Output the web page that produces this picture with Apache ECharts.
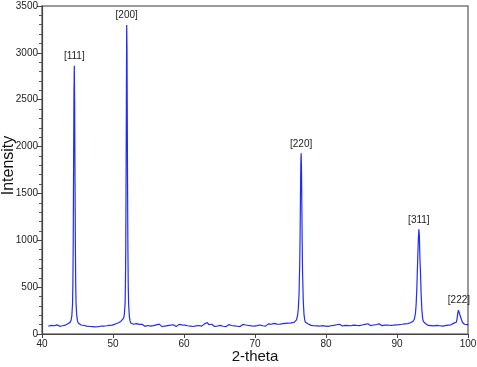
<!DOCTYPE html>
<html><head><meta charset="utf-8">
<script src="https://cdn.jsdelivr.net/npm/echarts@6/dist/echarts.min.js"></script>
<style>html,body{margin:0;padding:0;background:#fff}#c{width:477px;height:367px}</style>
</head><body><div id="c"></div>
<script>
// [2-theta, intensity] scan segments
const scanA = [[40.9,84],[41.1,78],[41.3,91],[41.5,80],[41.7,88],[41.9,76],[42.1,97],[42.3,86],[42.5,82],[42.7,99],[42.9,88],[43.1,102],[43.3,95],[43.5,108],[43.7,112],[43.9,120]];
const peak111 = [[44.0,128],[44.1,150],[44.2,190],[44.3,320],[44.35,520],[44.4,1000],[44.45,1800],[44.5,2550],[44.55,2863],[44.6,2450],[44.65,1650],[44.7,950],[44.75,520],[44.8,320],[44.9,190],[45.0,140],[45.1,118]];
const scanB = [[45.3,108],[45.5,96],[45.7,104],[45.9,91],[46.1,99],[46.3,84],[46.5,96],[46.7,80],[46.9,92],[47.1,78],[47.3,90],[47.5,76],[47.7,88],[47.9,79],[48.1,93],[48.3,83],[48.5,96],[48.7,85],[48.9,99],[49.1,88],[49.3,103],[49.5,92],[49.7,108],[49.9,95],[50.1,112],[50.3,106],[50.5,119],[50.7,118],[50.9,131],[51.1,134],[51.3,155],[51.5,170]];
const peak200 = [[51.6,210],[51.7,320],[51.75,520],[51.8,950],[51.85,1800],[51.9,2800],[51.93,3298],[51.97,3050],[52.0,2500],[52.05,1600],[52.1,900],[52.15,500],[52.2,320],[52.3,190],[52.4,140],[52.5,118]];
const scanC = [[52.7,112],[52.9,104],[53.1,96],[53.3,110],[53.5,94],[53.7,103],[53.9,88],[54.1,104],[54.3,92],[54.5,82],[54.7,99],[54.9,91],[55.1,104],[55.3,84],[55.5,98],[55.7,89],[55.9,81],[56.1,97],[56.3,87],[56.5,105],[56.7,91],[56.9,79],[57.1,95],[57.3,85],[57.5,101],[57.7,90],[57.9,105],[58.1,94],[58.3,83],[58.5,99],[58.7,87],[58.9,79],[59.1,92],[59.3,103],[59.5,85],[59.7,97],[59.9,82],[60.1,95],[60.3,106],[60.5,88],[60.7,99],[60.9,84],[61.1,93],[61.3,80],[61.5,98],[61.7,86],[61.9,104],[62.1,91],[62.3,100],[62.5,84],[62.7,96],[62.9,108],[63.1,92],[63.3,122],[63.5,99],[63.7,86],[63.9,104],[64.1,91],[64.3,80],[64.5,96],[64.7,85],[64.9,77],[65.1,92],[65.3,101],[65.5,83],[65.7,95],[65.9,78],[66.1,88],[66.3,100],[66.5,81],[66.7,91],[66.9,76],[67.1,87],[67.3,72],[67.5,83],[67.7,94],[67.9,79],[68.1,90],[68.3,102],[68.5,84],[68.7,96],[68.9,82],[69.1,91],[69.3,106],[69.5,86],[69.7,98],[69.9,84],[70.1,100],[70.3,89],[70.5,80],[70.7,96],[70.9,104],[71.1,88],[71.3,100],[71.5,84],[71.7,98],[71.9,108],[72.1,92],[72.3,104],[72.5,90],[72.7,113],[72.9,96],[73.1,106],[73.3,93],[73.5,104],[73.7,97],[73.9,110],[74.1,99],[74.3,113],[74.5,101],[74.7,115],[74.9,105],[75.1,118],[75.3,114],[75.5,124],[75.7,132]];
const peak220 = [[75.85,150],[76.0,200],[76.1,270],[76.2,420],[76.3,750],[76.35,1050],[76.4,1450],[76.45,1800],[76.5,1928],[76.55,1750],[76.6,1350],[76.65,950],[76.7,650],[76.8,350],[76.9,210],[77.0,150],[77.1,125]];
const scanD = [[77.3,115],[77.5,106],[77.7,101],[77.9,92],[78.1,104],[78.3,88],[78.5,100],[78.7,86],[78.9,98],[79.1,83],[79.3,97],[79.5,89],[79.7,103],[79.9,85],[80.1,95],[80.3,81],[80.5,97],[80.7,88],[80.9,102],[81.1,92],[81.3,83],[81.5,99],[81.7,90],[81.9,104],[82.1,94],[82.3,85],[82.5,101],[82.7,92],[82.9,106],[83.1,90],[83.3,99],[83.5,88],[83.7,103],[83.9,94],[84.1,107],[84.3,91],[84.5,100],[84.7,89],[84.9,105],[85.1,96],[85.3,87],[85.5,103],[85.7,94],[85.9,109],[86.1,98],[86.3,89],[86.5,105],[86.7,96],[86.9,85],[87.1,101],[87.3,92],[87.5,108],[87.7,98],[87.9,89],[88.1,103],[88.3,94],[88.5,110],[88.7,96],[88.9,105],[89.1,91],[89.3,103],[89.5,94],[89.7,107],[89.9,98],[90.1,111],[90.3,100],[90.5,91],[90.7,104],[90.9,95],[91.1,109],[91.3,99],[91.5,111],[91.7,108],[91.9,120],[92.1,124],[92.3,138]];
const peak311 = [[92.45,160],[92.6,220],[92.7,320],[92.8,500],[92.9,760],[93.0,1000],[93.08,1117],[93.15,1050],[93.2,900],[93.25,760],[93.3,680],[93.35,560],[93.4,420],[93.5,260],[93.6,175],[93.7,135],[93.8,118]];
const scanE = [[94.0,112],[94.2,100],[94.4,92],[94.6,106],[94.8,90],[95.0,99],[95.2,86],[95.4,101],[95.6,92],[95.8,106],[96.0,88],[96.2,97],[96.4,84],[96.6,99],[96.8,90],[97.0,103],[97.2,95],[97.4,115],[97.6,98],[97.8,108],[98.0,116],[98.2,108]];
const peak222 = [[98.35,125],[98.45,160],[98.55,215],[98.65,255],[98.72,263],[98.8,235],[98.9,195],[99.0,175],[99.1,150],[99.2,125],[99.3,110]];
const scanF = [[99.5,104],[99.7,94],[99.9,101],[100.0,93]];

// peak annotations
const peakNames = ['[111]','[200]','[220]','[311]','[222]'];
const peakTheta = [44.55, 51.93, 76.5, 93.08, 98.72];
const peakIntensity = [2863, 3298, 1928, 1117, 263];

const scan = [].concat(scanA, peak111, scanB, peak200, scanC, peak220, scanD, peak311, scanE, peak222, scanF);
const labelPts = peakNames.map((n, i) => ({ value: [peakTheta[i], peakIntensity[i]], name: n }));

const font = 'Liberation Sans, Arial, sans-serif';
const chart = echarts.init(document.getElementById('c'), null, { renderer: 'canvas' });
chart.setOption({
  animation: false,
  grid: { left: 42, right: 9, top: 6, bottom: 33, containLabel: false, outerBoundsMode: 'none',
          show: true, borderColor: '#7a7a7a', borderWidth: 1.5, backgroundColor: 'transparent' },
  xAxis: {
    type: 'value', min: 40, max: 100, interval: 10,
    name: '2-theta', nameLocation: 'middle', nameGap: 15, nameMoveOverlap: false,
    nameTextStyle: { fontFamily: font, fontSize: 15, color: '#111' },
    axisLine: { show: true, lineStyle: { color: '#444', width: 1.2 } },
    axisTick: { show: true, length: 4, lineStyle: { color: '#444' } },
    axisLabel: { fontFamily: font, fontSize: 10, color: '#222', margin: 5, formatter: v => String(v) },
    splitLine: { show: false }
  },
  yAxis: {
    type: 'value', min: 0, max: 3500, interval: 500,
    name: 'Intensity', nameLocation: 'middle', nameGap: 25, nameMoveOverlap: false,
    nameTextStyle: { fontFamily: font, fontSize: 16, color: '#111', padding: [0, 0, 0, 9] },
    axisLine: { show: true, lineStyle: { color: '#444', width: 1.2 } },
    axisTick: { show: true, length: 5, lineStyle: { color: '#444' } },
    minorTick: { show: true, splitNumber: 5, length: 3, lineStyle: { color: '#555' } },
    axisLabel: { fontFamily: font, fontSize: 10, color: '#222', margin: 4, formatter: v => String(v) },
    splitLine: { show: false }, minorSplitLine: { show: false }
  },
  series: [
    {
      type: 'line', data: scan, showSymbol: false, symbol: 'none', z: 3,
      lineStyle: { color: '#1f2bff', width: 1.2 }, silent: true
    },
    {
      type: 'scatter', data: labelPts, symbolSize: 1, silent: true, z: 2,
      itemStyle: { opacity: 0 },
      label: { show: true, position: 'top', distance: 4, formatter: p => p.name,
               fontFamily: font, fontSize: 10, color: '#222', opacity: 1 }
    }
  ]
});
</script></body></html>
